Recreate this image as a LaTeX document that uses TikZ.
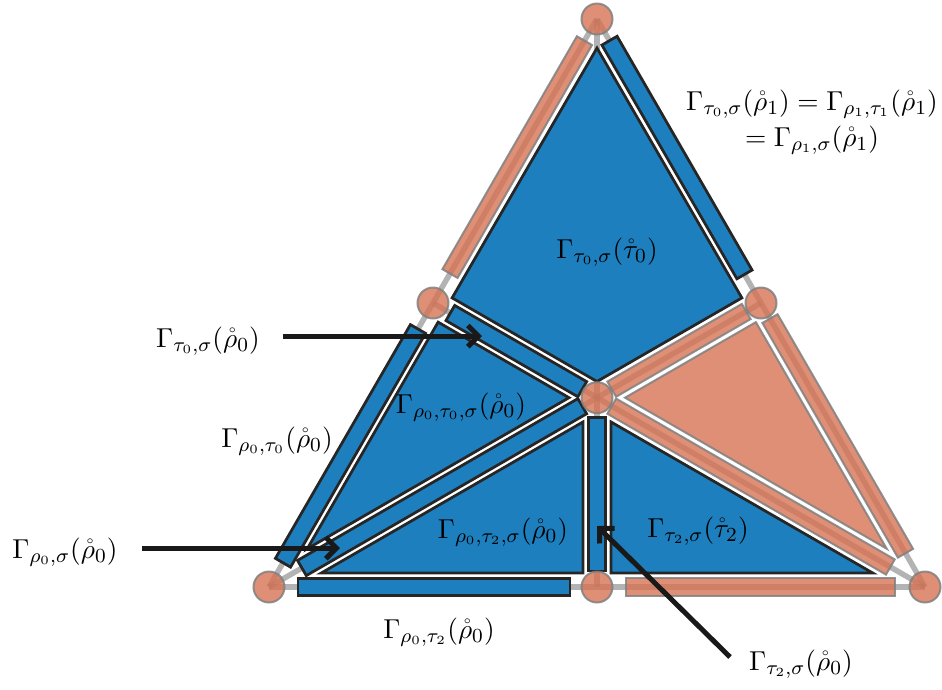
\documentclass[tikz,border=0pt]{standalone}
\usepackage{amsmath}
\usetikzlibrary{calc,arrows.meta}
\definecolor{cblue}{RGB}{30,127,190}
\definecolor{csalmon}{RGB}{214,115,84}
\definecolor{cgray}{RGB}{128,128,128}
\tikzset{
  skel/.style={draw=cgray, draw opacity=0.6, line width=2.2pt},
  bluecell/.style={fill=cblue, draw=black!85, line width=1.1pt, line join=miter},
  salmoncell/.style={fill=csalmon, fill opacity=0.8, draw=cgray, draw opacity=0.85, line width=0.8pt},
  vertdot/.style={fill=csalmon, fill opacity=0.8, draw=cgray, draw opacity=0.85, line width=0.8pt},
  lbl/.style={font=\fontsize{11}{14.4}\selectfont, inner sep=0pt, anchor=base},
  pointer/.style={draw=black!90, line width=2pt, -{Straight Barb[angle=90:6pt]}},
}
\newcommand\mystrip[5]{%
  \coordinate (s1) at ($(#2)!#4*0.4pt!(#3)$);
  \coordinate (s2) at ($(#3)!#5*0.4pt!(#2)$);
  \path[#1] ($(s1)!3.5pt!90:(s2)$) -- ($(s1)!3.5pt!-90:(s2)$) -- ($(s2)!3.5pt!90:(s1)$) -- ($(s2)!3.5pt!-90:(s1)$) -- cycle;
}
\begin{document}
\begin{tikzpicture}[x=0.4pt,y=-0.4pt]
\useasboundingbox (0,0) rectangle (942,689);
% skeleton points
\coordinate (A) at (597,19);
\coordinate (B) at (269,587);
\coordinate (C) at (925,587);
\coordinate (G) at (597,397.67);
\coordinate (MAB) at (433,303);
\coordinate (MAC) at (761,303);
\coordinate (MBC) at (597,587);
% gray skeleton
\foreach \p/\q in {A/MAB,MAB/B,B/MBC,MBC/C,C/MAC,MAC/A,A/G,B/G,C/G,MAB/G,MAC/G,MBC/G}
  \draw[skel] (\p) -- (\q);
% 2-cells
\path[salmoncell] (755.88,322.12) -- (625,397.67) -- (886.75,548.75) -- cycle;
\path[bluecell] (597,48) -- (452.12,297.88) -- (597,381.5) -- (741.88,297.88) -- cycle;
\path[bluecell] (438.12,322.12) -- (569,397.67) -- (307.25,548.75) -- cycle;
\path[bluecell] (583,573) -- (583,421.92) -- (321.25,573) -- cycle;
\path[bluecell] (611,573) -- (611,421.92) -- (872.75,573) -- cycle;
% 1-cells
\mystrip{bluecell}{B}{MAB}{28}{30}
\mystrip{salmoncell}{A}{MAB}{25}{34}
\mystrip{bluecell}{A}{MAC}{25}{33}
\mystrip{salmoncell}{MAC}{C}{18}{39}
\mystrip{bluecell}{B}{MBC}{29}{27}
\mystrip{salmoncell}{MBC}{C}{29}{30}
\mystrip{bluecell}{MBC}{G}{16}{20}
\mystrip{salmoncell}{G}{C}{17}{40}
\mystrip{salmoncell}{G}{MAC}{17}{17}
\mystrip{bluecell}{G}{MAB}{17}{20}
\mystrip{bluecell}{G}{B}{17}{38}
% 0-cells
\foreach \p in {A,B,C,G,MAB,MAC,MBC}
  \path[vertdot] (\p) circle[radius=6.2pt];
% labels
\node[lbl] (lk) at (607,258) {$\Gamma_{\tau_0,\sigma}(\mathring{\tau}_0)$};
\node[lbl, align=center] (lr) at (812,146) {$\Gamma_{\tau_0,\sigma}(\mathring{\rho}_1)=\Gamma_{\rho_1,\tau_1}(\mathring{\rho}_1)$\\$=\Gamma_{\rho_1,\sigma}(\mathring{\rho}_1)$};
\node[lbl] (l1) at (208,347) {$\Gamma_{\tau_0,\sigma}(\mathring{\rho}_0)$};
\node[lbl] (l2) at (277,447) {$\Gamma_{\rho_0,\tau_0}(\mathring{\rho}_0)$};
\node[lbl] (l3) at (65,558) {$\Gamma_{\rho_0,\sigma}(\mathring{\rho}_0)$};
\node[lbl] (l4) at (461,413) {$\Gamma_{\rho_0,\tau_0,\sigma}(\mathring{\rho}_0)$};
\node[lbl] (l5) at (503,538) {$\Gamma_{\rho_0,\tau_2,\sigma}(\mathring{\rho}_0)$};
\node[lbl] (l6) at (698,537) {$\Gamma_{\tau_2,\sigma}(\mathring{\tau}_2)$};
\node[lbl] (l7) at (439,638) {$\Gamma_{\rho_0,\tau_2}(\mathring{\rho}_0)$};
\node[lbl] (l8) at (801,670) {$\Gamma_{\tau_2,\sigma}(\mathring{\rho}_0)$};
% pointers
\coordinate (a1s) at (283,336);
\coordinate (a1e) at (482,336);
\coordinate (a2s) at (142,548);
\coordinate (a2e) at (340,548);
\coordinate (a3s) at (730,657);
\coordinate (a3e) at (597,526);
\draw[pointer] (a1s) -- (a1e);
\draw[pointer] (a2s) -- (a2e);
\draw[pointer] (a3s) -- (a3e);
\end{tikzpicture}
\end{document}
